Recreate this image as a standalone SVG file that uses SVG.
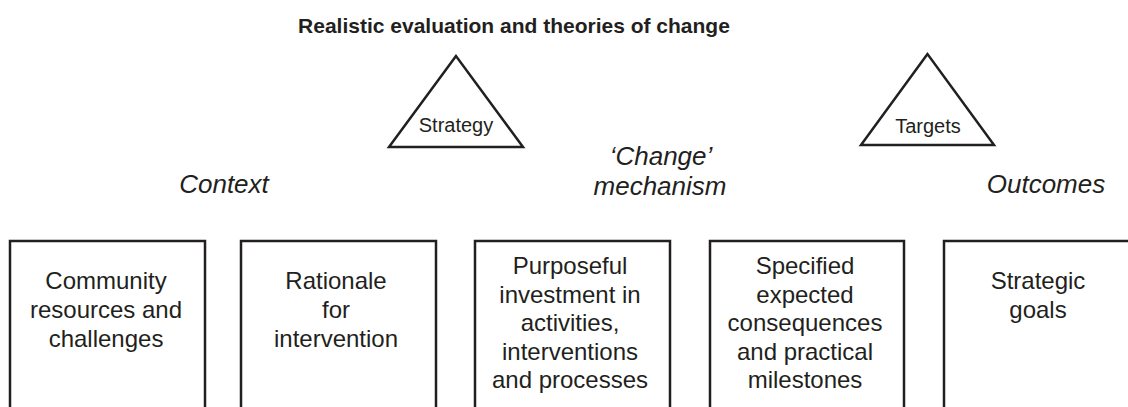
<svg xmlns="http://www.w3.org/2000/svg" width="1128" height="407" viewBox="0 0 1128 407">
  <style>
    .box { fill: #ffffff; stroke: #231f20; stroke-width: 2.5; }
    .tri { fill: #ffffff; stroke: #231f20; stroke-width: 2.5; stroke-linejoin: miter; }
    .t { font-family: "Liberation Sans", Arial, sans-serif; fill: #231f20; text-anchor: middle; }
    .title { font-size: 21px; font-weight: bold; }
    .body { font-size: 24px; }
    .tri-label { font-size: 20px; }
    .phase { font-size: 26px; font-style: italic; }
  </style>
  <rect width="1128" height="407" fill="#ffffff"/>

  <text class="t title" x="514" y="33">Realistic evaluation and theories of change</text>

  <!-- triangles -->
  <g id="strategy">
    <polygon class="tri" points="456,56 389,147 523,147"/>
    <text class="t tri-label" x="456" y="132">Strategy</text>
  </g>
  <g id="targets">
    <polygon class="tri" points="927.5,54 861,145 994,145"/>
    <text class="t tri-label" x="928" y="133">Targets</text>
  </g>

  <!-- phase labels -->
  <g id="context-label">
    <text class="t phase" x="224" y="193">Context</text>
  </g>
  <g id="mechanism-label">
    <text class="t phase" x="661" y="165">‘Change’</text>
    <text class="t phase" x="660" y="195">mechanism</text>
  </g>
  <g id="outcomes-label">
    <text class="t phase" x="1046" y="193">Outcomes</text>
  </g>

  <!-- boxes (run off the bottom edge) -->
  <g id="community">
    <rect class="box" x="10" y="241" width="195" height="190"/>
    <text class="t body" x="106" y="289">Community</text>
    <text class="t body" x="106" y="318">resources and</text>
    <text class="t body" x="106" y="347">challenges</text>
  </g>
  <g id="rationale">
    <rect class="box" x="241" y="241" width="195" height="190"/>
    <text class="t body" x="336" y="289">Rationale</text>
    <text class="t body" x="336" y="318">for</text>
    <text class="t body" x="336" y="347">intervention</text>
  </g>
  <g id="investment">
    <rect class="box" x="475" y="241" width="195" height="190"/>
    <text class="t body" x="570" y="274">Purposeful</text>
    <text class="t body" x="570" y="302.5">investment in</text>
    <text class="t body" x="570" y="331">activities,</text>
    <text class="t body" x="570" y="359.5">interventions</text>
    <text class="t body" x="570" y="388">and processes</text>
  </g>
  <g id="consequences">
    <rect class="box" x="710" y="241" width="194" height="190"/>
    <text class="t body" x="805" y="274">Specified</text>
    <text class="t body" x="805" y="302.5">expected</text>
    <text class="t body" x="805" y="331">consequences</text>
    <text class="t body" x="805" y="359.5">and practical</text>
    <text class="t body" x="805" y="388">milestones</text>
  </g>
  <g id="goals">
    <rect class="box" x="944" y="241" width="195" height="190"/>
    <text class="t body" x="1038" y="289">Strategic</text>
    <text class="t body" x="1038" y="318">goals</text>
  </g>

  <g id="connectors"></g>
</svg>
